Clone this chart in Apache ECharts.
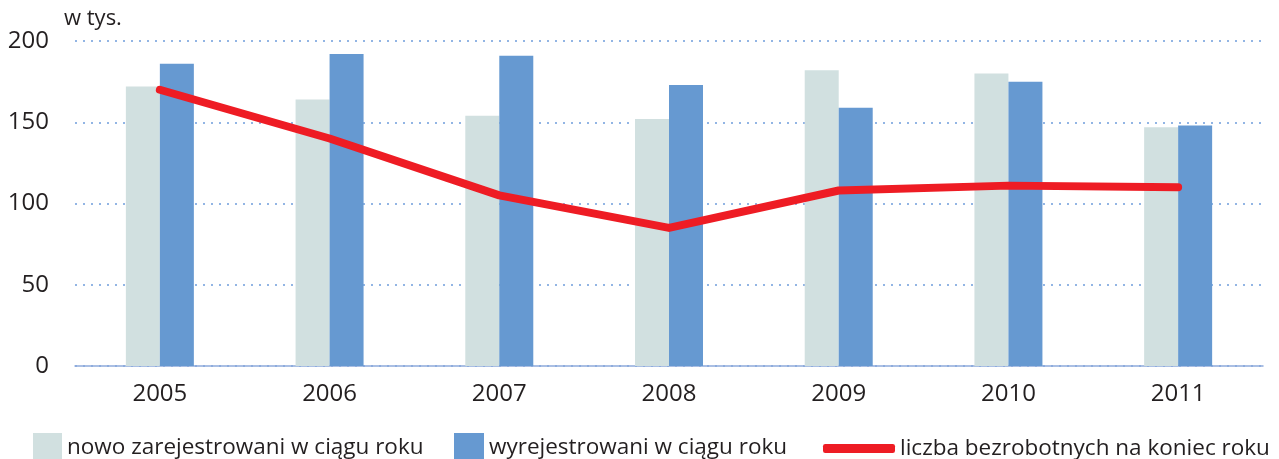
<!DOCTYPE html>
<html>
<head>
<meta charset="utf-8">
<script src="https://cdn.jsdelivr.net/npm/echarts@6/dist/echarts.min.js"></script>
<style>
    html, body { margin: 0; padding: 0; background: #fff; }
    #chart { width: 1279px; height: 459px; }
</style>
</head>
<body>
<div id="chart"></div>
<script>
// dane
var years = ['2005', '2006', '2007', '2008', '2009', '2010', '2011'];
var nowoZarejestrowani = [172, 164, 154, 152, 182, 180, 147];
var wyrejestrowani = [186, 192, 191, 173, 159, 175, 148];
var bezrobotni = [170, 140, 105, 85, 108, 111, 110];
var yTicks = [0, 50, 100, 150, 200];

var names = ['nowo zarejestrowani w ciągu roku', 'wyrejestrowani w ciągu roku', 'liczba bezrobotnych na koniec roku'];
var font = '"Open Sans", "Noto Sans", sans-serif';
var textColor = '#231f20';

(function() {
    var myChart = echarts.init(document.getElementById('chart'));

    var legendText = { color: textColor, fontSize: 22.5, fontFamily: font };

    var option = {
        animation: false,
        color: ['#d1e0e0', '#6699d1', '#ee1c24'],
        graphic: [{
            type: 'text',
            left: 64,
            top: 8,
            style: { text: 'w tys.', fill: textColor, font: '22px ' + font }
        }],
        // trzy osobne legendy - rozne rozmiary ikon
        legend: [{
            data: [names[0]],
            left: 33, top: 433,
            padding: 0,
            itemWidth: 29, itemHeight: 30,
            icon: 'rect',
            textStyle: legendText
        }, {
            data: [names[1]],
            left: 454, top: 433,
            padding: 0,
            itemWidth: 30, itemHeight: 30,
            icon: 'rect',
            textStyle: legendText
        }, {
            data: [names[2]],
            left: 823, top: 437,
            padding: 0,
            itemWidth: 72, itemHeight: 9,
            icon: 'roundRect',
            textStyle: legendText
        }],
        grid: {
            left: 75,
            right: 16,
            top: 41,
            bottom: 93,
            containLabel: false
        },
        xAxis: {
            type: 'category',
            data: years,
            axisTick: { show: false },
            axisLine: { lineStyle: { color: '#8eaadc', width: 1.5 } },
            axisLabel: { color: textColor, fontSize: 24, fontFamily: font, margin: 16 }
        },
        yAxis: {
            type: 'value',
            min: yTicks[0],
            max: yTicks[yTicks.length - 1],
            interval: 50,
            axisLine: { show: false },
            axisTick: { show: false },
            axisLabel: { color: textColor, fontSize: 24, fontFamily: font, margin: 26 },
            splitLine: {
                lineStyle: { color: '#6f9ddb', width: 1.5, type: [2, 6] }
            }
        },
        series: [{
            name: names[0],
            type: 'bar',
            data: nowoZarejestrowani,
            barWidth: 34,
            barGap: '0%'
        }, {
            name: names[1],
            type: 'bar',
            data: wyrejestrowani,
            barWidth: 34,
            barGap: '0%'
        }, {
            name: names[2],
            type: 'line',
            data: bezrobotni,
            symbol: 'none',
            lineStyle: { width: 8, cap: 'round', join: 'round' },
            z: 5
        }]
    };

    myChart.setOption(option);

    window.addEventListener('resize', function() {
        myChart.resize();
    });
})();
</script>
</body>
</html>
